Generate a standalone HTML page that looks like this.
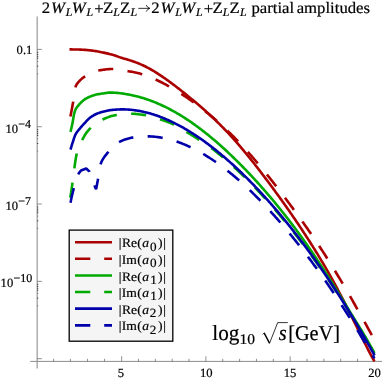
<!DOCTYPE html>
<html><head><meta charset="utf-8"><title>partial amplitudes</title>
<style>html,body{margin:0;padding:0;background:#fff;}body{width:383px;height:381px;overflow:hidden;font-family:"Liberation Serif",serif;}svg{display:block;will-change:transform;}text{text-rendering:geometricPrecision;font-family:"Liberation Serif",serif;fill:#000;stroke:#000;stroke-width:0.2px;}</style>
</head><body>
<svg width="383" height="381" viewBox="0 0 383 381">
<rect width="383" height="381" fill="#fff"/>
<g stroke="#8c8c8c" stroke-width="1" fill="none">
<line x1="37.2" y1="16.6" x2="37.2" y2="368.6" stroke="#a8a8a8" stroke-width="1.4"/>
<line x1="30.2" y1="361.4" x2="382" y2="361.4"/>
</g>
<g stroke="#333" stroke-width="0.55" fill="none">
<line x1="53.65" y1="358.8" x2="53.65" y2="361.4"/>
<line x1="70.40" y1="358.8" x2="70.40" y2="361.4"/>
<line x1="87.55" y1="358.8" x2="87.55" y2="361.4"/>
<line x1="104.55" y1="358.8" x2="104.55" y2="361.4"/>
<line x1="121.65" y1="356.3" x2="121.65" y2="361.4"/>
<line x1="138.50" y1="358.8" x2="138.50" y2="361.4"/>
<line x1="155.35" y1="358.8" x2="155.35" y2="361.4"/>
<line x1="172.20" y1="358.8" x2="172.20" y2="361.4"/>
<line x1="189.05" y1="358.8" x2="189.05" y2="361.4"/>
<line x1="205.90" y1="356.3" x2="205.90" y2="361.4"/>
<line x1="222.75" y1="358.8" x2="222.75" y2="361.4"/>
<line x1="239.60" y1="358.8" x2="239.60" y2="361.4"/>
<line x1="256.45" y1="358.8" x2="256.45" y2="361.4"/>
<line x1="273.30" y1="358.8" x2="273.30" y2="361.4"/>
<line x1="290.15" y1="356.3" x2="290.15" y2="361.4"/>
<line x1="307.00" y1="358.8" x2="307.00" y2="361.4"/>
<line x1="323.85" y1="358.8" x2="323.85" y2="361.4"/>
<line x1="340.70" y1="358.8" x2="340.70" y2="361.4"/>
<line x1="357.55" y1="358.8" x2="357.55" y2="361.4"/>
<line x1="374.40" y1="356.3" x2="374.40" y2="361.4"/>
<line x1="37.3" y1="49.40" x2="41.9" y2="49.40"/>
<line x1="37.3" y1="126.72" x2="41.9" y2="126.72"/>
<line x1="37.3" y1="204.05" x2="41.9" y2="204.05"/>
<line x1="37.3" y1="281.38" x2="41.9" y2="281.38"/>
<line x1="37.3" y1="358.70" x2="41.9" y2="358.70"/>
</g>
<g stroke="#222" fill="none">
<line x1="37.0" y1="52.30" x2="38.3" y2="52.30" stroke-width="0.8"/>
<line x1="37.0" y1="54.40" x2="38.3" y2="54.40" stroke-width="0.8"/>
<line x1="37.0" y1="56.30" x2="38.3" y2="56.30" stroke-width="0.8"/>
<line x1="37.0" y1="58.20" x2="38.3" y2="58.20" stroke-width="0.8"/>
<line x1="37.0" y1="61.50" x2="38.3" y2="61.50" stroke-width="0.4"/>
<line x1="37.0" y1="66.20" x2="38.3" y2="66.20" stroke-width="0.8"/>
<line x1="37.0" y1="73.80" x2="38.3" y2="73.80" stroke-width="0.4"/>
<line x1="37.0" y1="129.62" x2="38.3" y2="129.62" stroke-width="0.8"/>
<line x1="37.0" y1="131.72" x2="38.3" y2="131.72" stroke-width="0.8"/>
<line x1="37.0" y1="133.62" x2="38.3" y2="133.62" stroke-width="0.8"/>
<line x1="37.0" y1="135.53" x2="38.3" y2="135.53" stroke-width="0.8"/>
<line x1="37.0" y1="138.82" x2="38.3" y2="138.82" stroke-width="0.4"/>
<line x1="37.0" y1="143.53" x2="38.3" y2="143.53" stroke-width="0.8"/>
<line x1="37.0" y1="151.12" x2="38.3" y2="151.12" stroke-width="0.4"/>
<line x1="37.0" y1="206.95" x2="38.3" y2="206.95" stroke-width="0.8"/>
<line x1="37.0" y1="209.05" x2="38.3" y2="209.05" stroke-width="0.8"/>
<line x1="37.0" y1="210.95" x2="38.3" y2="210.95" stroke-width="0.8"/>
<line x1="37.0" y1="212.85" x2="38.3" y2="212.85" stroke-width="0.8"/>
<line x1="37.0" y1="216.15" x2="38.3" y2="216.15" stroke-width="0.4"/>
<line x1="37.0" y1="220.85" x2="38.3" y2="220.85" stroke-width="0.8"/>
<line x1="37.0" y1="228.45" x2="38.3" y2="228.45" stroke-width="0.4"/>
<line x1="37.0" y1="284.27" x2="38.3" y2="284.27" stroke-width="0.8"/>
<line x1="37.0" y1="286.38" x2="38.3" y2="286.38" stroke-width="0.8"/>
<line x1="37.0" y1="288.27" x2="38.3" y2="288.27" stroke-width="0.8"/>
<line x1="37.0" y1="290.18" x2="38.3" y2="290.18" stroke-width="0.8"/>
<line x1="37.0" y1="293.48" x2="38.3" y2="293.48" stroke-width="0.4"/>
<line x1="37.0" y1="298.18" x2="38.3" y2="298.18" stroke-width="0.8"/>
<line x1="37.0" y1="305.77" x2="38.3" y2="305.77" stroke-width="0.4"/>
</g>
<path d="M138.3,8.35 H149.6 M146.2,5.1 Q147.2,7.6 149.9,8.35 Q147.2,9.1 146.2,11.6" fill="none" stroke="#000" stroke-width="0.8"/>
<path d="M69.50,49.40 L70.65,49.40 L71.79,49.41 L72.94,49.43 L74.09,49.45 L75.23,49.47 L76.38,49.50 L77.52,49.53 L78.67,49.56 L79.81,49.59 L80.96,49.63 L82.10,49.69 L83.24,49.75 L84.39,49.83 L85.53,49.92 L86.68,50.02 L87.82,50.12 L88.96,50.23 L90.10,50.35 L91.24,50.47 L92.37,50.60 L93.51,50.75 L94.64,50.92 L95.77,51.11 L96.90,51.31 L98.03,51.52 L99.16,51.74 L100.28,51.96 L101.41,52.18 L102.53,52.41 L103.65,52.64 L104.77,52.87 L105.90,53.12 L107.01,53.37 L108.13,53.63 L109.25,53.91 L110.36,54.19 L111.46,54.48 L112.56,54.78 L113.66,55.11 L114.75,55.47 L115.83,55.85 L116.91,56.24 L117.99,56.63 L119.07,57.02 L120.15,57.38 L121.25,57.73 L122.34,58.06 L123.44,58.38 L124.54,58.70 L125.64,59.02 L126.74,59.35 L127.84,59.68 L128.93,60.02 L130.02,60.37 L131.11,60.73 L132.20,61.09 L133.29,61.45 L134.37,61.83 L135.45,62.22 L136.52,62.62 L137.59,63.03 L138.65,63.46 L139.71,63.90 L140.77,64.35 L141.82,64.82 L142.86,65.29 L143.90,65.77 L144.93,66.27 L145.95,66.78 L146.97,67.30 L147.99,67.83 L149.00,68.38 L150.00,68.94 L151.00,69.50 L151.99,70.07 L152.98,70.65 L153.97,71.23 L154.95,71.83 L155.92,72.43 L156.89,73.05 L157.85,73.67 L158.82,74.29 L159.77,74.92 L160.73,75.55 L161.68,76.19 L162.63,76.83 L163.57,77.48 L164.51,78.14 L165.45,78.80 L166.38,79.46 L167.32,80.13 L168.25,80.80 L169.17,81.47 L170.10,82.15 L171.02,82.83 L171.94,83.51 L172.86,84.20 L173.77,84.89 L174.69,85.58 L175.60,86.28 L176.51,86.97 L177.42,87.67 L178.32,88.37 L179.23,89.08 L180.13,89.78 L181.03,90.49 L181.93,91.20 L182.83,91.91 L183.72,92.63 L184.62,93.34 L185.51,94.06 L186.40,94.78 L187.29,95.50 L188.18,96.23 L189.07,96.95 L189.95,97.68 L190.84,98.41 L191.72,99.14 L192.60,99.87 L193.48,100.61 L194.36,101.34 L195.23,102.08 L196.11,102.82 L196.98,103.56 L197.86,104.31 L198.73,105.05 L199.59,105.80 L200.46,106.55 L201.32,107.30 L202.19,108.05 L203.05,108.81 L203.91,109.57 L204.77,110.33 L205.62,111.09 L206.48,111.85 L207.33,112.62 L208.18,113.39 L209.03,114.16 L209.87,114.93 L210.71,115.71 L211.55,116.49 L212.39,117.27 L213.23,118.06 L214.06,118.84 L214.89,119.63 L215.72,120.42 L216.54,121.22 L217.36,122.02 L218.18,122.82 L219.00,123.62 L219.81,124.43 L220.63,125.24 L221.43,126.05 L222.24,126.87 L223.04,127.68 L223.84,128.50 L224.64,129.33 L225.43,130.15 L226.23,130.98 L227.01,131.81 L227.80,132.65 L228.58,133.48 L229.36,134.32 L230.14,135.17 L230.92,136.01 L231.69,136.86 L232.46,137.70 L233.23,138.55 L233.99,139.41 L234.75,140.26 L235.51,141.12 L236.27,141.98 L237.02,142.85 L237.78,143.71 L238.53,144.58 L239.27,145.45 L240.02,146.32 L240.76,147.19 L241.50,148.06 L242.24,148.94 L242.98,149.82 L243.71,150.70 L244.44,151.58 L245.17,152.46 L245.90,153.35 L246.63,154.23 L247.35,155.12 L248.08,156.01 L248.80,156.90 L249.52,157.79 L250.24,158.68 L250.96,159.57 L251.67,160.47 L252.38,161.37 L253.10,162.27 L253.81,163.16 L254.52,164.06 L255.22,164.97 L255.93,165.87 L256.64,166.77 L257.34,167.67 L258.04,168.58 L258.75,169.48 L259.45,170.39 L260.15,171.30 L260.84,172.21 L261.54,173.12 L262.24,174.03 L262.93,174.94 L263.63,175.85 L264.32,176.76 L265.01,177.68 L265.70,178.59 L266.39,179.51 L267.08,180.42 L267.77,181.34 L268.45,182.26 L269.14,183.17 L269.82,184.09 L270.51,185.01 L271.19,185.93 L271.87,186.85 L272.55,187.78 L273.23,188.70 L273.91,189.62 L274.59,190.55 L275.26,191.47 L275.94,192.40 L276.62,193.32 L277.29,194.25 L277.96,195.18 L278.63,196.10 L279.31,197.03 L279.98,197.96 L280.64,198.89 L281.31,199.82 L281.98,200.76 L282.64,201.69 L283.31,202.62 L283.97,203.56 L284.64,204.49 L285.30,205.43 L285.96,206.36 L286.62,207.30 L287.28,208.24 L287.94,209.17 L288.59,210.11 L289.25,211.05 L289.90,211.99 L290.56,212.93 L291.21,213.88 L291.86,214.82 L292.51,215.76 L293.16,216.71 L293.81,217.65 L294.46,218.60 L295.10,219.54 L295.75,220.49 L296.39,221.44 L297.03,222.39 L297.67,223.34 L298.31,224.29 L298.95,225.24 L299.59,226.19 L300.23,227.14 L300.86,228.10 L301.50,229.05 L302.13,230.01 L302.76,230.96 L303.39,231.92 L304.02,232.88 L304.65,233.84 L305.28,234.80 L305.90,235.76 L306.52,236.72 L307.15,237.68 L307.77,238.64 L308.39,239.61 L309.01,240.57 L309.63,241.54 L310.24,242.50 L310.86,243.47 L311.47,244.44 L312.08,245.41 L312.69,246.38 L313.30,247.35 L313.91,248.32 L314.51,249.29 L315.12,250.27 L315.72,251.24 L316.32,252.22 L316.92,253.19 L317.52,254.17 L318.12,255.15 L318.71,256.13 L319.31,257.11 L319.90,258.09 L320.49,259.07 L321.08,260.05 L321.66,261.04 L322.25,262.02 L322.83,263.01 L323.42,263.99 L324.00,264.98 L324.58,265.97 L325.16,266.96 L325.73,267.95 L326.31,268.94 L326.88,269.93 L327.45,270.93 L328.02,271.92 L328.59,272.92 L329.15,273.91 L329.72,274.91 L330.28,275.91 L330.84,276.91 L331.40,277.91 L331.96,278.91 L332.51,279.91 L333.07,280.91 L333.62,281.92 L334.17,282.92 L334.72,283.93 L335.27,284.93 L335.82,285.94 L336.36,286.95 L336.90,287.96 L337.45,288.97 L337.98,289.98 L338.52,290.99 L339.06,292.00 L339.59,293.02 L340.13,294.03 L340.66,295.05 L341.19,296.06 L341.72,297.08 L342.25,298.09 L342.78,299.11 L343.30,300.13 L343.83,301.15 L344.35,302.17 L344.88,303.19 L345.40,304.21 L345.92,305.23 L346.44,306.25 L346.96,307.27 L347.47,308.29 L347.99,309.32 L348.50,310.34 L349.02,311.36 L349.53,312.39 L350.04,313.41 L350.56,314.44 L351.07,315.46 L351.58,316.49 L352.09,317.51 L352.60,318.54 L353.12,319.56 L353.63,320.59 L354.13,321.62 L354.64,322.64 L355.15,323.67 L355.66,324.70 L356.16,325.73 L356.67,326.75 L357.18,327.78 L357.69,328.81 L358.19,329.84 L358.70,330.86 L359.21,331.89 L359.72,332.92 L360.23,333.94 L360.74,334.97 L361.25,335.99 L361.77,337.02 L362.28,338.04 L362.79,339.07 L363.30,340.10 L363.81,341.12 L364.33,342.14 L364.84,343.17 L365.36,344.19 L365.87,345.22 L366.39,346.24 L366.91,347.26 L367.43,348.28 L367.95,349.30 L368.48,350.32 L369.01,351.33 L369.54,352.35 L370.07,353.36 L370.61,354.38 L371.14,355.39 L371.68,356.40 L372.22,357.41 L372.76,358.42 L373.31,359.43 L373.85,360.44 L374.40,361.44" fill="none" stroke="#aa0000" stroke-width="2.6" stroke-linejoin="round"/>
<path d="M70.40,116.50 L70.63,115.36 L70.86,114.23 L71.08,113.09 L71.31,111.95 L71.53,110.81 L71.74,109.67 L71.96,108.53 L72.17,107.39 L72.38,106.25 L72.59,105.11 L72.79,103.97 L72.99,102.83 L73.19,101.69 L73.37,100.53 L73.54,99.37 L73.69,98.19 L73.84,97.00 L73.97,95.81 L74.12,94.63 L74.26,93.45 L74.42,92.28 L74.59,91.13 L74.78,90.00 L75.00,88.90 L75.25,87.84 L75.53,86.80 L75.92,85.79 L76.44,84.79 L77.07,83.81 L77.80,82.85 L78.59,81.92 L79.42,81.02 L80.27,80.17 L81.12,79.36 L81.96,78.60 L82.87,77.88 L83.83,77.21 L84.83,76.59 L85.83,76.01 L86.83,75.44 L87.85,74.87 L88.88,74.30 L89.93,73.74 L90.98,73.20 L92.05,72.68 L93.12,72.20 L94.21,71.75 L95.30,71.35 L96.39,71.00 L97.49,70.71 L98.60,70.48 L99.71,70.29 L100.84,70.10 L101.98,69.92 L103.13,69.75 L104.29,69.60 L105.45,69.45 L106.62,69.32 L107.78,69.21 L108.95,69.12 L110.12,69.06 L111.28,69.02 L112.43,69.00 L113.59,69.02 L114.74,69.08 L115.89,69.18 L117.04,69.31 L118.18,69.47 L119.33,69.64 L120.48,69.84 L121.63,70.04 L122.78,70.26 L123.93,70.47 L125.07,70.68 L126.22,70.89 L127.36,71.08 L128.51,71.26 L129.66,71.43 L130.80,71.61 L131.95,71.80 L133.09,72.00 L134.23,72.21 L135.37,72.43 L136.50,72.68 L137.62,72.96 L138.74,73.26 L139.86,73.57 L140.98,73.91 L142.08,74.25 L143.19,74.60 L144.29,74.96 L145.39,75.33 L146.48,75.73 L147.57,76.13 L148.65,76.55 L149.73,76.98 L150.80,77.41 L151.88,77.85 L152.94,78.30 L154.01,78.77 L155.06,79.24 L156.12,79.73 L157.17,80.22 L158.22,80.72 L159.26,81.22 L160.30,81.73 L161.34,82.25 L162.37,82.78 L163.40,83.32 L164.42,83.86 L165.45,84.41 L166.46,84.96 L167.48,85.52 L168.49,86.09 L169.50,86.66 L170.51,87.24 L171.51,87.82 L172.51,88.41 L173.50,89.01 L174.50,89.61 L175.49,90.21 L176.47,90.82 L177.46,91.43 L178.44,92.05 L179.42,92.67 L180.39,93.30 L181.37,93.93 L182.34,94.56 L183.30,95.20 L184.27,95.85 L185.23,96.49 L186.19,97.14 L187.15,97.80 L188.10,98.46 L189.05,99.12 L190.00,99.79 L190.95,100.46 L191.89,101.13 L192.83,101.81 L193.77,102.49 L194.71,103.17 L195.64,103.86 L196.57,104.55 L197.50,105.25 L198.43,105.95 L199.35,106.65 L200.27,107.35 L201.19,108.06 L202.11,108.77 L203.02,109.48 L203.93,110.20 L204.84,110.92 L205.75,111.65 L206.65,112.37 L207.55,113.10 L208.45,113.84 L209.34,114.57 L210.24,115.31 L211.13,116.06 L212.01,116.80 L212.90,117.55 L213.78,118.30 L214.66,119.06 L215.54,119.82 L216.41,120.58 L217.28,121.35 L218.15,122.11 L219.02,122.89 L219.88,123.66 L220.74,124.44 L221.60,125.22 L222.45,126.00 L223.31,126.79 L224.16,127.58 L225.00,128.37 L225.85,129.16 L226.69,129.96 L227.53,130.76 L228.36,131.57 L229.19,132.37 L230.02,133.18 L230.85,134.00 L231.68,134.81 L232.50,135.63 L233.32,136.45 L234.14,137.27 L234.95,138.10 L235.76,138.93 L236.57,139.76 L237.38,140.59 L238.18,141.43 L238.98,142.26 L239.78,143.10 L240.58,143.95 L241.37,144.79 L242.16,145.64 L242.95,146.49 L243.74,147.34 L244.52,148.20 L245.30,149.06 L246.08,149.91 L246.86,150.78 L247.63,151.64 L248.40,152.50 L249.17,153.37 L249.94,154.24 L250.71,155.11 L251.47,155.98 L252.23,156.86 L252.99,157.74 L253.75,158.61 L254.50,159.49 L255.26,160.38 L256.01,161.26 L256.76,162.14 L257.50,163.03 L258.25,163.92 L258.99,164.81 L259.74,165.70 L260.48,166.59 L261.21,167.48 L261.95,168.38 L262.69,169.28 L263.42,170.17 L264.15,171.07 L264.88,171.97 L265.61,172.87 L266.34,173.78 L267.07,174.68 L267.79,175.59 L268.51,176.49 L269.24,177.40 L269.96,178.31 L270.68,179.22 L271.39,180.13 L272.11,181.04 L272.83,181.95 L273.54,182.87 L274.26,183.78 L274.97,184.70 L275.68,185.61 L276.39,186.53 L277.10,187.45 L277.80,188.37 L278.51,189.28 L279.22,190.20 L279.92,191.13 L280.62,192.05 L281.33,192.97 L282.03,193.89 L282.73,194.82 L283.43,195.74 L284.13,196.67 L284.83,197.59 L285.52,198.52 L286.22,199.45 L286.92,200.37 L287.61,201.30 L288.30,202.23 L289.00,203.16 L289.69,204.09 L290.38,205.02 L291.07,205.95 L291.76,206.89 L292.45,207.82 L293.14,208.75 L293.82,209.69 L294.51,210.62 L295.19,211.56 L295.88,212.50 L296.56,213.43 L297.24,214.37 L297.92,215.31 L298.60,216.25 L299.28,217.19 L299.96,218.13 L300.63,219.07 L301.31,220.02 L301.98,220.96 L302.66,221.90 L303.33,222.85 L304.00,223.79 L304.67,224.74 L305.33,225.69 L306.00,226.64 L306.67,227.59 L307.33,228.54 L308.00,229.49 L308.66,230.44 L309.32,231.39 L309.98,232.35 L310.63,233.30 L311.29,234.26 L311.95,235.22 L312.60,236.17 L313.25,237.13 L313.90,238.09 L314.55,239.05 L315.20,240.01 L315.85,240.98 L316.49,241.94 L317.14,242.90 L317.78,243.87 L318.42,244.83 L319.06,245.80 L319.70,246.77 L320.34,247.74 L320.97,248.71 L321.61,249.68 L322.24,250.65 L322.87,251.62 L323.50,252.60 L324.13,253.57 L324.76,254.55 L325.38,255.52 L326.01,256.50 L326.63,257.48 L327.25,258.46 L327.87,259.44 L328.49,260.42 L329.11,261.40 L329.73,262.38 L330.34,263.36 L330.95,264.35 L331.57,265.33 L332.18,266.32 L332.79,267.30 L333.40,268.29 L334.00,269.28 L334.61,270.27 L335.22,271.26 L335.82,272.24 L336.42,273.24 L337.02,274.23 L337.62,275.22 L338.22,276.21 L338.82,277.21 L339.42,278.20 L340.01,279.20 L340.61,280.19 L341.20,281.19 L341.79,282.18 L342.38,283.18 L342.97,284.18 L343.56,285.18 L344.15,286.18 L344.74,287.18 L345.32,288.18 L345.91,289.18 L346.49,290.18 L347.08,291.18 L347.66,292.19 L348.24,293.19 L348.82,294.19 L349.40,295.20 L349.98,296.20 L350.56,297.21 L351.14,298.21 L351.71,299.22 L352.29,300.22 L352.86,301.23 L353.44,302.24 L354.01,303.25 L354.58,304.25 L355.16,305.26 L355.73,306.27 L356.30,307.28 L356.87,308.29 L357.44,309.30 L358.01,310.31 L358.58,311.32 L359.15,312.33 L359.71,313.34 L360.28,314.35 L360.85,315.37 L361.42,316.38 L361.98,317.39 L362.55,318.40 L363.11,319.41 L363.68,320.43 L364.24,321.44 L364.81,322.45 L365.37,323.46 L365.94,324.48 L366.50,325.49 L367.06,326.50 L367.63,327.52 L368.19,328.53 L368.76,329.54 L369.32,330.55 L369.89,331.57 L370.45,332.58 L371.02,333.59 L371.58,334.61 L372.14,335.62 L372.71,336.63 L373.27,337.65 L373.84,338.66 L374.40,339.67" fill="none" stroke="#aa0000" stroke-width="2.6" stroke-linejoin="round" stroke-dasharray="15.1 14.4"/>
<path d="M70.50,131.90 L70.76,130.81 L71.01,129.71 L71.27,128.62 L71.52,127.53 L71.76,126.43 L72.01,125.34 L72.25,124.24 L72.48,123.14 L72.69,122.02 L72.89,120.90 L73.08,119.76 L73.26,118.63 L73.45,117.50 L73.64,116.38 L73.85,115.27 L74.08,114.17 L74.33,113.10 L74.61,112.04 L74.92,111.02 L75.31,110.02 L75.80,109.04 L76.38,108.08 L77.04,107.13 L77.74,106.21 L78.48,105.31 L79.22,104.45 L79.95,103.62 L80.71,102.80 L81.52,102.00 L82.36,101.23 L83.23,100.49 L84.12,99.81 L85.03,99.18 L85.97,98.60 L86.95,98.05 L87.95,97.53 L88.98,97.04 L90.02,96.60 L91.07,96.19 L92.12,95.81 L93.18,95.46 L94.26,95.13 L95.35,94.83 L96.44,94.55 L97.53,94.31 L98.63,94.10 L99.74,93.91 L100.85,93.74 L101.96,93.58 L103.08,93.42 L104.19,93.27 L105.30,93.11 L106.41,92.94 L107.53,92.78 L108.65,92.66 L109.76,92.60 L110.88,92.61 L112.00,92.63 L113.13,92.67 L114.25,92.71 L115.37,92.77 L116.49,92.83 L117.61,92.92 L118.73,93.04 L119.84,93.18 L120.95,93.33 L122.07,93.49 L123.18,93.65 L124.29,93.81 L125.40,93.98 L126.51,94.16 L127.61,94.36 L128.72,94.56 L129.82,94.76 L130.92,94.98 L132.02,95.21 L133.12,95.44 L134.21,95.69 L135.31,95.96 L136.40,96.23 L137.48,96.50 L138.57,96.79 L139.65,97.08 L140.73,97.39 L141.81,97.70 L142.89,98.03 L143.96,98.36 L145.03,98.70 L146.10,99.05 L147.16,99.40 L148.22,99.77 L149.28,100.14 L150.33,100.53 L151.39,100.92 L152.44,101.32 L153.48,101.73 L154.53,102.14 L155.57,102.56 L156.60,102.99 L157.64,103.43 L158.67,103.87 L159.70,104.33 L160.72,104.79 L161.74,105.25 L162.76,105.72 L163.78,106.20 L164.79,106.69 L165.79,107.18 L166.80,107.68 L167.80,108.19 L168.80,108.71 L169.80,109.23 L170.79,109.75 L171.78,110.28 L172.76,110.82 L173.74,111.36 L174.72,111.91 L175.70,112.47 L176.67,113.03 L177.64,113.59 L178.61,114.17 L179.57,114.74 L180.53,115.32 L181.49,115.91 L182.44,116.50 L183.39,117.10 L184.34,117.70 L185.28,118.31 L186.22,118.92 L187.16,119.54 L188.10,120.16 L189.03,120.78 L189.96,121.42 L190.88,122.05 L191.81,122.69 L192.73,123.33 L193.65,123.98 L194.56,124.63 L195.47,125.29 L196.38,125.94 L197.29,126.61 L198.19,127.28 L199.09,127.95 L199.99,128.62 L200.88,129.30 L201.77,129.98 L202.66,130.67 L203.55,131.35 L204.43,132.05 L205.31,132.74 L206.19,133.44 L207.07,134.14 L207.94,134.85 L208.81,135.56 L209.68,136.27 L210.55,136.98 L211.41,137.70 L212.27,138.42 L213.13,139.14 L213.99,139.86 L214.84,140.59 L215.70,141.32 L216.54,142.06 L217.39,142.80 L218.24,143.53 L219.08,144.28 L219.92,145.02 L220.76,145.76 L221.60,146.51 L222.43,147.27 L223.26,148.02 L224.09,148.77 L224.92,149.53 L225.75,150.29 L226.57,151.06 L227.39,151.82 L228.21,152.59 L229.03,153.36 L229.85,154.13 L230.66,154.90 L231.47,155.68 L232.28,156.45 L233.09,157.23 L233.90,158.01 L234.70,158.80 L235.50,159.58 L236.30,160.37 L237.10,161.16 L237.90,161.95 L238.69,162.74 L239.49,163.53 L240.28,164.33 L241.07,165.13 L241.86,165.92 L242.64,166.73 L243.43,167.53 L244.21,168.33 L244.99,169.14 L245.77,169.95 L246.55,170.76 L247.33,171.57 L248.10,172.38 L248.88,173.19 L249.65,174.01 L250.42,174.83 L251.18,175.65 L251.95,176.47 L252.71,177.29 L253.48,178.11 L254.24,178.94 L255.00,179.76 L255.76,180.59 L256.51,181.42 L257.27,182.25 L258.02,183.08 L258.77,183.92 L259.52,184.75 L260.27,185.59 L261.02,186.43 L261.76,187.27 L262.51,188.11 L263.25,188.95 L263.99,189.79 L264.73,190.64 L265.46,191.49 L266.20,192.33 L266.93,193.18 L267.67,194.03 L268.40,194.89 L269.13,195.74 L269.85,196.59 L270.58,197.45 L271.30,198.31 L272.03,199.17 L272.75,200.03 L273.47,200.89 L274.19,201.75 L274.90,202.61 L275.62,203.48 L276.33,204.35 L277.04,205.21 L277.75,206.08 L278.46,206.95 L279.17,207.83 L279.88,208.70 L280.58,209.57 L281.28,210.45 L281.98,211.33 L282.68,212.20 L283.38,213.08 L284.08,213.96 L284.77,214.84 L285.46,215.73 L286.16,216.61 L286.85,217.50 L287.53,218.38 L288.22,219.27 L288.91,220.16 L289.59,221.05 L290.27,221.94 L290.95,222.84 L291.63,223.73 L292.31,224.63 L292.98,225.52 L293.66,226.42 L294.33,227.32 L295.00,228.22 L295.67,229.12 L296.34,230.02 L297.00,230.93 L297.67,231.83 L298.33,232.74 L298.99,233.64 L299.65,234.55 L300.31,235.46 L300.97,236.37 L301.62,237.28 L302.28,238.19 L302.93,239.11 L303.58,240.02 L304.23,240.94 L304.88,241.85 L305.53,242.77 L306.17,243.69 L306.82,244.61 L307.46,245.53 L308.10,246.45 L308.74,247.37 L309.38,248.30 L310.02,249.22 L310.65,250.15 L311.29,251.07 L311.92,252.00 L312.55,252.93 L313.18,253.85 L313.81,254.78 L314.44,255.71 L315.07,256.64 L315.70,257.58 L316.32,258.51 L316.94,259.44 L317.57,260.38 L318.19,261.31 L318.81,262.25 L319.43,263.18 L320.04,264.12 L320.66,265.06 L321.28,266.00 L321.89,266.94 L322.50,267.88 L323.12,268.82 L323.73,269.76 L324.34,270.70 L324.95,271.64 L325.56,272.59 L326.16,273.53 L326.77,274.48 L327.38,275.42 L327.98,276.37 L328.59,277.31 L329.19,278.26 L329.79,279.21 L330.39,280.15 L330.99,281.10 L331.59,282.05 L332.19,283.00 L332.79,283.95 L333.39,284.90 L333.99,285.85 L334.58,286.80 L335.18,287.75 L335.77,288.71 L336.37,289.66 L336.96,290.61 L337.55,291.56 L338.15,292.52 L338.74,293.47 L339.33,294.42 L339.92,295.38 L340.51,296.33 L341.10,297.29 L341.69,298.24 L342.28,299.20 L342.87,300.16 L343.46,301.11 L344.04,302.07 L344.63,303.03 L345.22,303.98 L345.80,304.94 L346.39,305.90 L346.98,306.85 L347.57,307.81 L348.15,308.77 L348.74,309.72 L349.32,310.68 L349.91,311.64 L350.49,312.60 L351.08,313.56 L351.66,314.51 L352.25,315.47 L352.84,316.43 L353.42,317.39 L354.01,318.34 L354.60,319.30 L355.19,320.26 L355.78,321.21 L356.37,322.16 L356.97,323.11 L357.57,324.06 L358.16,325.01 L358.76,325.96 L359.36,326.91 L359.95,327.87 L360.55,328.82 L361.14,329.77 L361.73,330.73 L362.31,331.69 L362.88,332.65 L363.46,333.62 L364.03,334.58 L364.60,335.55 L365.17,336.52 L365.73,337.49 L366.29,338.46 L366.86,339.43 L367.42,340.40 L367.97,341.37 L368.53,342.35 L369.08,343.33 L369.64,344.30 L370.19,345.28 L370.73,346.26 L371.28,347.25 L371.82,348.23 L372.36,349.21 L372.90,350.20 L373.44,351.19 L373.97,352.17 L374.50,353.16" fill="none" stroke="#00aa00" stroke-width="2.6" stroke-linejoin="round"/>
<path d="M70.30,197.60 L70.48,196.43 L70.66,195.26 L70.84,194.09 L71.02,192.92 L71.20,191.75 L71.37,190.59 L71.54,189.42 L71.71,188.24 L71.88,187.07 L72.05,185.90 L72.21,184.73 L72.38,183.56 L72.54,182.39 L72.69,181.22 L72.84,180.04 L72.99,178.87 L73.14,177.70 L73.28,176.52 L73.43,175.35 L73.57,174.18 L73.72,173.00 L73.87,171.83 L74.03,170.66 L74.19,169.49 L74.35,168.31 L74.52,167.14 L74.68,165.96 L74.84,164.79 L75.00,163.61 L75.17,162.43 L75.34,161.25 L75.52,160.08 L75.72,158.91 L75.92,157.75 L76.14,156.59 L76.37,155.45 L76.62,154.31 L76.91,153.18 L77.23,152.05 L77.58,150.92 L77.97,149.81 L78.38,148.69 L78.82,147.58 L79.28,146.48 L79.75,145.38 L80.24,144.29 L80.73,143.21 L81.24,142.13 L81.74,141.06 L82.24,140.00 L82.76,138.94 L83.31,137.88 L83.88,136.84 L84.47,135.80 L85.09,134.79 L85.73,133.80 L86.39,132.84 L87.10,131.89 L87.84,130.95 L88.62,130.04 L89.42,129.17 L90.25,128.35 L91.10,127.56 L91.98,126.77 L92.88,125.99 L93.80,125.22 L94.74,124.47 L95.71,123.74 L96.68,123.03 L97.67,122.35 L98.68,121.71 L99.69,121.09 L100.71,120.51 L101.74,119.97 L102.78,119.47 L103.83,118.99 L104.91,118.50 L106.00,118.03 L107.11,117.58 L108.23,117.14 L109.36,116.73 L110.50,116.35 L111.65,116.00 L112.80,115.69 L113.95,115.42 L115.10,115.20 L116.25,115.02 L117.41,114.85 L118.57,114.68 L119.74,114.52 L120.92,114.37 L122.10,114.23 L123.28,114.10 L124.47,113.99 L125.66,113.89 L126.84,113.81 L128.03,113.75 L129.21,113.71 L130.39,113.70 L131.57,113.71 L132.75,113.75 L133.93,113.82 L135.12,113.91 L136.30,114.01 L137.48,114.13 L138.66,114.27 L139.84,114.42 L141.02,114.58 L142.19,114.74 L143.36,114.91 L144.52,115.07 L145.68,115.25 L146.83,115.47 L147.98,115.72 L149.13,116.00 L150.28,116.30 L151.42,116.62 L152.56,116.95 L153.70,117.30 L154.83,117.66 L155.97,118.03 L157.10,118.39 L158.22,118.75 L159.35,119.11 L160.47,119.47 L161.60,119.84 L162.73,120.21 L163.85,120.60 L164.97,120.99 L166.09,121.39 L167.20,121.81 L168.31,122.23 L169.41,122.66 L170.50,123.11 L171.59,123.57 L172.66,124.05 L173.72,124.54 L174.78,125.06 L175.82,125.60 L176.86,126.17 L177.88,126.75 L178.91,127.35 L179.92,127.96 L180.94,128.58 L181.95,129.21 L182.96,129.83 L183.97,130.45 L184.99,131.07 L186.00,131.68 L187.01,132.29 L188.03,132.90 L189.04,133.51 L190.05,134.13 L191.05,134.75 L192.06,135.37 L193.07,135.99 L194.07,136.62 L195.07,137.25 L196.07,137.88 L197.07,138.51 L198.07,139.15 L199.06,139.79 L200.06,140.42 L201.06,141.06 L202.06,141.69 L203.06,142.33 L204.05,142.97 L205.04,143.62 L206.03,144.27 L207.01,144.93 L207.99,145.60 L208.96,146.27 L209.92,146.95 L210.87,147.65 L211.82,148.36 L212.75,149.09 L213.67,149.82 L214.59,150.57 L215.51,151.32 L216.43,152.07 L217.34,152.82 L218.26,153.56 L219.18,154.31 L220.10,155.05 L221.02,155.80 L221.93,156.55 L222.85,157.30 L223.76,158.05 L224.67,158.81 L225.57,159.57 L226.47,160.34 L227.36,161.11 L228.26,161.89 L229.14,162.67 L230.03,163.46 L230.91,164.24 L231.79,165.03 L232.67,165.83 L233.54,166.62 L234.42,167.42 L235.29,168.22 L236.16,169.02 L237.02,169.83 L237.89,170.64 L238.75,171.45 L239.61,172.26 L240.46,173.07 L241.32,173.89 L242.17,174.71 L243.02,175.53 L243.87,176.36 L244.72,177.18 L245.56,178.01 L246.40,178.84 L247.24,179.67 L248.08,180.51 L248.92,181.35 L249.75,182.19 L250.58,183.03 L251.41,183.87 L252.24,184.71 L253.06,185.56 L253.88,186.41 L254.70,187.26 L255.52,188.12 L256.34,188.97 L257.16,189.83 L257.97,190.69 L258.78,191.55 L259.59,192.41 L260.40,193.27 L261.20,194.14 L262.00,195.01 L262.81,195.88 L263.61,196.75 L264.40,197.62 L265.20,198.50 L265.99,199.37 L266.79,200.25 L267.58,201.13 L268.36,202.01 L269.15,202.90 L269.94,203.78 L270.72,204.67 L271.50,205.56 L272.28,206.45 L273.06,207.34 L273.83,208.23 L274.61,209.12 L275.38,210.02 L276.15,210.92 L276.92,211.81 L277.69,212.71 L278.45,213.62 L279.22,214.52 L279.98,215.42 L280.74,216.33 L281.50,217.24 L282.25,218.14 L283.01,219.05 L283.76,219.97 L284.52,220.88 L285.27,221.79 L286.01,222.71 L286.76,223.63 L287.51,224.54 L288.25,225.46 L288.99,226.38 L289.74,227.30 L290.48,228.22 L291.22,229.15 L291.96,230.07 L292.69,231.00 L293.43,231.92 L294.17,232.85 L294.90,233.77 L295.63,234.70 L296.36,235.63 L297.09,236.56 L297.82,237.50 L298.54,238.43 L299.27,239.37 L299.99,240.30 L300.71,241.24 L301.43,242.18 L302.15,243.12 L302.86,244.06 L303.58,245.00 L304.29,245.94 L305.00,246.89 L305.72,247.83 L306.42,248.78 L307.13,249.73 L307.84,250.68 L308.54,251.63 L309.25,252.58 L309.95,253.53 L310.65,254.48 L311.35,255.44 L312.04,256.39 L312.74,257.35 L313.43,258.31 L314.13,259.26 L314.82,260.22 L315.51,261.18 L316.20,262.15 L316.88,263.11 L317.57,264.07 L318.26,265.04 L318.94,266.00 L319.62,266.97 L320.30,267.93 L320.98,268.90 L321.66,269.87 L322.33,270.84 L323.01,271.81 L323.68,272.79 L324.35,273.76 L325.02,274.73 L325.69,275.71 L326.36,276.68 L327.03,277.66 L327.69,278.64 L328.36,279.62 L329.02,280.60 L329.68,281.58 L330.34,282.56 L331.00,283.54 L331.66,284.52 L332.32,285.51 L332.97,286.49 L333.62,287.48 L334.28,288.46 L334.93,289.45 L335.58,290.44 L336.23,291.43 L336.87,292.42 L337.52,293.41 L338.16,294.40 L338.80,295.39 L339.45,296.39 L340.08,297.38 L340.72,298.38 L341.36,299.37 L342.00,300.37 L342.63,301.37 L343.26,302.37 L343.89,303.37 L344.52,304.37 L345.15,305.37 L345.78,306.37 L346.41,307.38 L347.03,308.38 L347.66,309.38 L348.28,310.39 L348.90,311.40 L349.52,312.40 L350.14,313.41 L350.76,314.42 L351.38,315.43 L351.99,316.44 L352.60,317.45 L353.22,318.46 L353.83,319.47 L354.44,320.49 L355.05,321.50 L355.66,322.51 L356.26,323.53 L356.87,324.54 L357.47,325.56 L358.08,326.58 L358.68,327.60 L359.28,328.61 L359.88,329.63 L360.48,330.65 L361.08,331.67 L361.67,332.70 L362.27,333.72 L362.86,334.74 L363.45,335.76 L364.05,336.79 L364.64,337.81 L365.23,338.84 L365.81,339.86 L366.40,340.89 L366.99,341.92 L367.57,342.95 L368.15,343.98 L368.74,345.00 L369.32,346.03 L369.90,347.06 L370.48,348.09 L371.06,349.13 L371.63,350.16 L372.21,351.19 L372.78,352.23 L373.36,353.26 L373.93,354.30 L374.50,355.33" fill="none" stroke="#00aa00" stroke-width="2.6" stroke-linejoin="round" stroke-dasharray="15.1 14.4"/>
<path d="M70.50,149.70 L70.80,148.65 L71.10,147.59 L71.41,146.54 L71.73,145.49 L72.05,144.45 L72.38,143.40 L72.72,142.36 L73.06,141.32 L73.39,140.27 L73.72,139.21 L74.06,138.16 L74.42,137.11 L74.80,136.09 L75.22,135.10 L75.69,134.14 L76.23,133.21 L76.84,132.30 L77.50,131.42 L78.20,130.55 L78.90,129.69 L79.59,128.83 L80.28,127.98 L80.99,127.15 L81.70,126.32 L82.44,125.50 L83.17,124.69 L83.92,123.89 L84.66,123.08 L85.41,122.26 L86.15,121.44 L86.91,120.63 L87.67,119.83 L88.46,119.07 L89.27,118.35 L90.10,117.67 L90.97,117.04 L91.87,116.43 L92.80,115.83 L93.76,115.26 L94.73,114.73 L95.72,114.23 L96.71,113.77 L97.71,113.36 L98.73,112.98 L99.77,112.64 L100.82,112.32 L101.88,112.03 L102.95,111.75 L104.02,111.50 L105.08,111.25 L106.15,111.00 L107.22,110.76 L108.30,110.53 L109.38,110.32 L110.46,110.14 L111.54,110.00 L112.63,109.89 L113.71,109.80 L114.80,109.72 L115.90,109.64 L116.99,109.57 L118.09,109.51 L119.18,109.46 L120.28,109.42 L121.38,109.39 L122.47,109.37 L123.57,109.37 L124.66,109.40 L125.75,109.44 L126.85,109.50 L127.94,109.57 L129.04,109.65 L130.13,109.73 L131.22,109.82 L132.31,109.92 L133.39,110.04 L134.48,110.19 L135.57,110.34 L136.65,110.51 L137.73,110.69 L138.81,110.87 L139.89,111.06 L140.96,111.26 L142.04,111.48 L143.11,111.72 L144.18,111.96 L145.24,112.21 L146.31,112.47 L147.37,112.74 L148.43,113.02 L149.48,113.31 L150.54,113.61 L151.59,113.92 L152.64,114.24 L153.68,114.57 L154.72,114.91 L155.76,115.25 L156.80,115.60 L157.83,115.97 L158.86,116.34 L159.89,116.72 L160.91,117.11 L161.93,117.51 L162.95,117.91 L163.97,118.32 L164.98,118.74 L165.99,119.16 L166.99,119.60 L168.00,120.04 L168.99,120.49 L169.99,120.95 L170.98,121.41 L171.97,121.87 L172.96,122.35 L173.94,122.83 L174.92,123.32 L175.90,123.82 L176.88,124.32 L177.85,124.82 L178.82,125.33 L179.78,125.85 L180.74,126.37 L181.70,126.90 L182.66,127.44 L183.61,127.98 L184.56,128.52 L185.51,129.07 L186.45,129.63 L187.39,130.19 L188.33,130.75 L189.26,131.32 L190.20,131.90 L191.13,132.48 L192.05,133.06 L192.97,133.65 L193.90,134.25 L194.81,134.84 L195.73,135.44 L196.64,136.05 L197.55,136.66 L198.46,137.27 L199.36,137.89 L200.26,138.52 L201.16,139.14 L202.06,139.77 L202.95,140.41 L203.84,141.04 L204.73,141.68 L205.61,142.33 L206.49,142.98 L207.37,143.63 L208.25,144.28 L209.13,144.94 L210.00,145.60 L210.87,146.27 L211.74,146.94 L212.60,147.61 L213.47,148.28 L214.33,148.96 L215.18,149.64 L216.04,150.33 L216.89,151.01 L217.74,151.70 L218.59,152.39 L219.44,153.09 L220.28,153.79 L221.12,154.49 L221.96,155.19 L222.80,155.90 L223.63,156.61 L224.47,157.32 L225.30,158.03 L226.12,158.75 L226.95,159.47 L227.77,160.19 L228.59,160.91 L229.41,161.64 L230.23,162.37 L231.05,163.10 L231.86,163.83 L232.67,164.57 L233.48,165.31 L234.29,166.05 L235.09,166.79 L235.90,167.53 L236.70,168.28 L237.50,169.03 L238.29,169.78 L239.09,170.53 L239.88,171.29 L240.67,172.04 L241.46,172.80 L242.25,173.56 L243.04,174.33 L243.82,175.09 L244.60,175.86 L245.38,176.63 L246.16,177.40 L246.94,178.17 L247.71,178.94 L248.48,179.72 L249.25,180.50 L250.02,181.28 L250.79,182.06 L251.56,182.84 L252.32,183.63 L253.08,184.41 L253.84,185.20 L254.60,185.99 L255.36,186.78 L256.11,187.58 L256.87,188.37 L257.62,189.17 L258.37,189.96 L259.12,190.76 L259.86,191.56 L260.61,192.37 L261.35,193.17 L262.09,193.98 L262.83,194.78 L263.57,195.59 L264.31,196.40 L265.04,197.21 L265.78,198.03 L266.51,198.84 L267.24,199.66 L267.97,200.47 L268.70,201.29 L269.42,202.11 L270.15,202.93 L270.87,203.75 L271.59,204.58 L272.31,205.40 L273.03,206.23 L273.75,207.06 L274.46,207.89 L275.18,208.72 L275.89,209.55 L276.60,210.38 L277.31,211.21 L278.02,212.05 L278.73,212.89 L279.43,213.72 L280.13,214.56 L280.84,215.40 L281.54,216.24 L282.24,217.09 L282.94,217.93 L283.63,218.78 L284.33,219.62 L285.02,220.47 L285.71,221.32 L286.40,222.17 L287.09,223.02 L287.78,223.87 L288.47,224.72 L289.16,225.58 L289.84,226.43 L290.52,227.29 L291.20,228.14 L291.88,229.00 L292.56,229.86 L293.24,230.72 L293.92,231.58 L294.59,232.45 L295.26,233.31 L295.94,234.17 L296.61,235.04 L297.28,235.91 L297.95,236.77 L298.61,237.64 L299.28,238.51 L299.94,239.38 L300.61,240.25 L301.27,241.12 L301.93,242.00 L302.59,242.87 L303.25,243.75 L303.90,244.62 L304.56,245.50 L305.21,246.38 L305.87,247.26 L306.52,248.14 L307.17,249.02 L307.82,249.90 L308.47,250.78 L309.11,251.67 L309.76,252.55 L310.40,253.44 L311.05,254.32 L311.69,255.21 L312.33,256.10 L312.97,256.99 L313.61,257.88 L314.24,258.77 L314.88,259.66 L315.51,260.55 L316.15,261.44 L316.78,262.34 L317.41,263.23 L318.04,264.13 L318.67,265.02 L319.30,265.92 L319.93,266.82 L320.55,267.72 L321.17,268.62 L321.80,269.52 L322.42,270.42 L323.04,271.32 L323.66,272.23 L324.28,273.13 L324.90,274.03 L325.51,274.94 L326.13,275.84 L326.74,276.75 L327.35,277.66 L327.97,278.57 L328.58,279.48 L329.19,280.39 L329.79,281.30 L330.40,282.21 L331.01,283.12 L331.61,284.03 L332.22,284.95 L332.82,285.86 L333.42,286.78 L334.02,287.69 L334.62,288.61 L335.22,289.53 L335.81,290.44 L336.41,291.36 L337.01,292.28 L337.60,293.20 L338.19,294.12 L338.78,295.04 L339.37,295.97 L339.96,296.89 L340.55,297.81 L341.14,298.74 L341.73,299.66 L342.31,300.59 L342.90,301.51 L343.48,302.44 L344.06,303.37 L344.64,304.30 L345.22,305.22 L345.80,306.15 L346.38,307.08 L346.96,308.01 L347.53,308.95 L348.11,309.88 L348.68,310.81 L349.25,311.74 L349.82,312.68 L350.39,313.61 L350.96,314.55 L351.53,315.48 L352.10,316.42 L352.67,317.36 L353.23,318.30 L353.80,319.23 L354.36,320.17 L354.92,321.11 L355.48,322.05 L356.04,322.99 L356.60,323.94 L357.16,324.88 L357.72,325.82 L358.27,326.76 L358.83,327.71 L359.38,328.65 L359.94,329.60 L360.49,330.54 L361.04,331.49 L361.59,332.44 L362.14,333.38 L362.69,334.33 L363.23,335.28 L363.78,336.23 L364.32,337.18 L364.87,338.13 L365.41,339.08 L365.95,340.03 L366.49,340.98 L367.03,341.94 L367.57,342.89 L368.11,343.84 L368.65,344.80 L369.19,345.75 L369.72,346.71 L370.26,347.66 L370.79,348.62 L371.32,349.57 L371.86,350.53 L372.39,351.49 L372.92,352.45 L373.45,353.41 L373.97,354.37 L374.50,355.33" fill="none" stroke="#0000aa" stroke-width="2.6" stroke-linejoin="round"/>
<path d="M70.50,202.80 L70.63,202.13 L70.76,201.45 L70.89,200.78 L71.02,200.10 L71.16,199.43 L71.30,198.76 L71.44,198.09 L71.59,197.42 L71.74,196.75 L71.89,196.08 L72.04,195.41 L72.19,194.75 L72.35,194.08 L72.51,193.41 L72.67,192.75 L72.83,192.08 L73.00,191.42 L73.17,190.76 L73.34,190.09 L73.51,189.43 L73.68,188.77 L73.86,188.11 L74.03,187.44 L74.20,186.77 L74.37,186.10 L74.54,185.43 L74.72,184.76 L74.89,184.08 L75.07,183.41 L75.26,182.74 L75.44,182.07 L75.63,181.40 L75.83,180.73 L76.03,180.07 L76.24,179.41 L76.45,178.76 L76.67,178.12 L76.90,177.48 L77.14,176.84 L77.39,176.22 L77.65,175.60 L77.92,174.99 L78.20,174.39 L78.51,173.81 L78.87,173.24 L79.26,172.67 L79.67,172.12 L80.11,171.57 L80.55,171.03 L81.00,170.50 L81.00,170.50 L86.20,168.50 L86.20,168.50 L89.50,171.60 L89.50,171.60 L89.66,172.08 L89.83,172.57 L89.99,173.05 L90.15,173.53 L90.32,174.02 L90.49,174.50 L90.66,174.98 L90.82,175.46 L90.99,175.94 L91.16,176.42 L91.34,176.90 L91.51,177.38 L91.68,177.86 L91.85,178.34 L92.03,178.82 L92.20,179.30 L92.38,179.78 L92.56,180.26 L92.73,180.74 L92.91,181.22 L93.09,181.70 L93.27,182.17 L93.45,182.65 L93.63,183.13 L93.81,183.60 L93.99,184.08 L94.17,184.56 L94.35,185.03 L94.53,185.51 L94.72,185.99 L94.91,186.46 L95.09,186.93 L95.28,187.41 L95.47,187.88 L95.67,188.35 L95.86,188.83 L96.05,189.30 L96.05,189.30 L96.23,188.42 L96.40,187.54 L96.58,186.65 L96.75,185.77 L96.92,184.89 L97.09,184.01 L97.26,183.12 L97.43,182.24 L97.60,181.36 L97.77,180.47 L97.93,179.59 L98.10,178.70 L98.26,177.81 L98.41,176.92 L98.55,176.02 L98.68,175.11 L98.82,174.21 L98.95,173.30 L99.08,172.39 L99.21,171.48 L99.34,170.58 L99.49,169.68 L99.63,168.79 L99.79,167.91 L99.96,167.04 L100.15,166.18 L100.35,165.33 L100.56,164.49 L100.80,163.67 L101.08,162.86 L101.41,162.05 L101.77,161.25 L102.18,160.45 L102.62,159.66 L103.09,158.88 L103.59,158.10 L104.11,157.34 L104.65,156.58 L105.20,155.83 L105.77,155.09 L106.34,154.36 L106.92,153.65 L107.50,152.94 L108.07,152.25 L108.64,151.57 L109.21,150.89 L109.80,150.21 L110.40,149.52 L111.01,148.84 L111.64,148.16 L112.28,147.48 L112.93,146.82 L113.60,146.17 L114.28,145.54 L114.97,144.93 L115.67,144.34 L116.38,143.79 L117.10,143.27 L117.83,142.78 L118.57,142.34 L119.32,141.94 L120.08,141.56 L120.86,141.19 L121.67,140.84 L122.49,140.49 L123.33,140.15 L124.18,139.83 L125.04,139.52 L125.91,139.23 L126.79,138.94 L127.68,138.68 L128.57,138.43 L129.46,138.20 L130.35,137.98 L131.24,137.79 L132.12,137.61 L133.00,137.45 L133.88,137.31 L134.77,137.17 L135.66,137.03 L136.55,136.91 L137.45,136.80 L138.35,136.70 L139.25,136.62 L140.14,136.55 L141.04,136.51 L141.94,136.49 L142.84,136.47 L143.74,136.45 L144.64,136.43 L145.54,136.41 L146.44,136.40 L147.34,136.39 L148.24,136.39 L149.14,136.38 L150.03,136.40 L150.93,136.43 L151.83,136.49 L152.73,136.56 L153.63,136.64 L154.52,136.73 L155.42,136.83 L156.31,136.93 L157.20,137.03 L158.10,137.14 L158.99,137.26 L159.88,137.40 L160.76,137.54 L161.65,137.70 L162.54,137.87 L163.42,138.04 L164.30,138.22 L165.18,138.40 L166.06,138.59 L166.94,138.78 L167.81,138.99 L168.69,139.21 L169.56,139.44 L170.43,139.68 L171.30,139.92 L172.16,140.17 L173.02,140.42 L173.88,140.67 L174.74,140.94 L175.60,141.22 L176.45,141.50 L177.31,141.79 L178.16,142.09 L179.00,142.39 L179.85,142.70 L180.69,143.01 L181.53,143.33 L182.37,143.65 L183.20,143.99 L184.04,144.33 L184.87,144.67 L185.70,145.02 L186.53,145.38 L187.35,145.74 L188.17,146.11 L188.99,146.48 L189.81,146.85 L190.62,147.24 L191.43,147.62 L192.24,148.02 L193.05,148.42 L193.85,148.82 L194.66,149.23 L195.45,149.64 L196.25,150.06 L197.05,150.48 L197.84,150.90 L198.63,151.33 L199.42,151.76 L200.20,152.20 L200.99,152.65 L201.77,153.09 L202.54,153.54 L203.32,154.00 L204.09,154.46 L204.87,154.92 L205.64,155.39 L206.40,155.86 L207.17,156.33 L207.93,156.81 L208.69,157.29 L209.45,157.77 L210.20,158.26 L210.96,158.75 L211.71,159.25 L212.46,159.75 L213.20,160.25 L213.95,160.75 L214.69,161.26 L215.43,161.77 L216.17,162.28 L216.90,162.80 L217.64,163.32 L218.37,163.85 L219.10,164.37 L219.83,164.90 L220.55,165.43 L221.28,165.96 L222.00,166.50 L222.72,167.04 L223.44,167.58 L224.15,168.13 L224.87,168.67 L225.58,169.22 L226.29,169.78 L227.00,170.33 L227.70,170.89 L228.41,171.45 L229.11,172.01 L229.81,172.57 L230.51,173.14 L231.21,173.71 L231.90,174.28 L232.59,174.85 L233.29,175.43 L233.98,176.01 L234.66,176.58 L235.35,177.17 L236.03,177.75 L236.72,178.34 L237.40,178.92 L238.08,179.51 L238.76,180.10 L239.43,180.70 L240.11,181.29 L240.78,181.89 L241.45,182.49 L242.12,183.09 L242.79,183.69 L243.45,184.30 L244.12,184.90 L244.78,185.51 L245.44,186.12 L246.10,186.73 L246.76,187.34 L247.42,187.96 L248.07,188.57 L248.73,189.19 L249.38,189.81 L250.03,190.43 L250.68,191.05 L251.33,191.68 L251.97,192.30 L252.62,192.93 L253.26,193.56 L253.90,194.19 L254.55,194.82 L255.18,195.45 L255.82,196.08 L256.46,196.72 L257.09,197.36 L257.73,198.00 L258.36,198.64 L258.99,199.28 L259.62,199.92 L260.25,200.56 L260.88,201.21 L261.50,201.85 L262.13,202.50 L262.75,203.15 L263.37,203.80 L263.99,204.45 L264.61,205.10 L265.23,205.75 L265.85,206.41 L266.46,207.06 L267.08,207.72 L267.69,208.38 L268.30,209.04 L268.91,209.70 L269.52,210.36 L270.13,211.02 L270.74,211.69 L271.35,212.35 L271.95,213.02 L272.55,213.68 L273.16,214.35 L273.76,215.02 L274.36,215.69 L274.96,216.36 L275.55,217.03 L276.15,217.71 L276.75,218.38 L277.34,219.05 L277.94,219.73 L278.53,220.41 L279.12,221.08 L279.71,221.76 L280.30,222.44 L280.89,223.12 L281.47,223.80 L282.06,224.49 L282.65,225.17 L283.23,225.85 L283.81,226.54 L284.39,227.23 L284.98,227.91 L285.55,228.60 L286.13,229.29 L286.71,229.98 L287.29,230.67 L287.86,231.36 L288.44,232.05 L289.01,232.74 L289.59,233.44 L290.16,234.13 L290.73,234.83 L291.30,235.52 L291.87,236.22 L292.44,236.92 L293.00,237.61 L293.57,238.31 L294.13,239.01 L294.70,239.71 L295.26,240.41 L295.82,241.12 L296.38,241.82 L296.94,242.52 L297.50,243.23 L298.06,243.93 L298.62,244.64 L299.18,245.34 L299.73,246.05 L300.29,246.76 L300.84,247.47 L301.39,248.18 L301.95,248.89 L302.50,249.60 L303.05,250.31 L303.60,251.02 L304.15,251.73 L304.69,252.45 L305.24,253.16 L305.79,253.88 L306.33,254.59 L306.88,255.31 L307.42,256.03 L307.96,256.74 L308.50,257.46 L309.04,258.18 L309.58,258.90 L310.12,259.62 L310.66,260.34 L311.20,261.06 L311.73,261.78 L312.27,262.51 L312.80,263.23 L313.34,263.95 L313.87,264.68 L314.40,265.40 L314.93,266.13 L315.46,266.86 L315.99,267.58 L316.52,268.31 L317.05,269.04 L317.57,269.77 L318.10,270.50 L318.62,271.23 L319.15,271.96 L319.67,272.69 L320.19,273.42 L320.71,274.16 L321.24,274.89 L321.76,275.63 L322.27,276.36 L322.79,277.09 L323.31,277.83 L323.83,278.57 L324.34,279.30 L324.86,280.04 L325.37,280.78 L325.88,281.52 L326.40,282.26 L326.91,283.00 L327.42,283.74 L327.93,284.48 L328.44,285.22 L328.94,285.96 L329.45,286.71 L329.96,287.45 L330.46,288.19 L330.97,288.94 L331.47,289.68 L331.97,290.43 L332.48,291.18 L332.98,291.92 L333.48,292.67 L333.98,293.42 L334.48,294.16 L334.98,294.91 L335.47,295.66 L335.97,296.41 L336.46,297.16 L336.96,297.91 L337.45,298.67 L337.95,299.42 L338.44,300.17 L338.93,300.92 L339.42,301.68 L339.91,302.43 L340.40,303.18 L340.89,303.94 L341.38,304.69 L341.87,305.45 L342.36,306.21 L342.84,306.96 L343.33,307.72 L343.81,308.48 L344.30,309.24 L344.78,309.99 L345.27,310.75 L345.75,311.51 L346.23,312.27 L346.71,313.03 L347.19,313.79 L347.67,314.55 L348.15,315.31 L348.63,316.07 L349.11,316.84 L349.59,317.60 L350.06,318.36 L350.54,319.12 L351.02,319.89 L351.49,320.65 L351.97,321.41 L352.44,322.18 L352.91,322.94 L353.39,323.71 L353.86,324.47 L354.33,325.24 L354.80,326.00 L355.28,326.77 L355.75,327.54 L356.22,328.30 L356.69,329.07 L357.16,329.84 L357.63,330.60 L358.10,331.37 L358.57,332.14 L359.04,332.90 L359.50,333.67 L359.97,334.44 L360.44,335.21 L360.91,335.98 L361.37,336.75 L361.84,337.52 L362.31,338.28 L362.77,339.05 L363.24,339.82 L363.70,340.59 L364.17,341.36 L364.64,342.13 L365.10,342.90 L365.57,343.67 L366.03,344.44 L366.50,345.21 L366.96,345.98 L367.43,346.75 L367.90,347.52 L368.36,348.29 L368.83,349.06 L369.29,349.83 L369.76,350.60 L370.22,351.37 L370.69,352.14 L371.15,352.91 L371.62,353.68 L372.08,354.45 L372.54,355.22 L373.01,355.99 L373.47,356.76 L373.94,357.53 L374.40,358.30" fill="none" stroke="#0000aa" stroke-width="2.6" stroke-linejoin="bevel" stroke-dasharray="15.1 14.4"/>
<rect x="69.2" y="230.1" width="103.6" height="111.1" fill="#f5f5f5" stroke="#000" stroke-width="1.3"/>
<line x1="75" y1="242.3" x2="112" y2="242.3" stroke="#aa0000" stroke-width="2.6"/>
<line x1="75" y1="258.7" x2="112" y2="258.7" stroke="#aa0000" stroke-width="2.6" stroke-dasharray="15.3 13.9"/>
<line x1="75" y1="275.5" x2="112" y2="275.5" stroke="#00aa00" stroke-width="2.6"/>
<line x1="75" y1="292.0" x2="112" y2="292.0" stroke="#00aa00" stroke-width="2.6" stroke-dasharray="15.3 13.9"/>
<line x1="75" y1="308.6" x2="112" y2="308.6" stroke="#0000aa" stroke-width="2.6"/>
<line x1="75" y1="325.4" x2="112" y2="325.4" stroke="#0000aa" stroke-width="2.6" stroke-dasharray="15.3 13.9"/>
<text transform="translate(117.80,376.80) scale(1.0,1)" font-size="12.6">5</text>
<text transform="translate(199.90,376.80) scale(1.0,1)" font-size="12.6">10</text>
<text transform="translate(283.80,376.80) scale(1.0,1)" font-size="12.6">15</text>
<text transform="translate(368.20,376.80) scale(1.0,1)" font-size="12.6">20</text>
<text transform="translate(16.60,53.80) scale(1.0,1)" font-size="12.6">0.</text>
<text transform="translate(25.90,53.80) scale(1.0,1)" font-size="12.6">1</text>
<text transform="translate(5.50,132.60) scale(1.0,1)" font-size="12.6">10</text>
<text transform="translate(18.20,128.10) scale(1.0,1)" font-size="12">−4</text>
<text transform="translate(5.50,209.70) scale(1.0,1)" font-size="12.6">10</text>
<text transform="translate(18.20,205.20) scale(1.0,1)" font-size="12">−7</text>
<text transform="translate(0.60,286.60) scale(1.0,1)" font-size="12.6">10</text>
<text transform="translate(13.50,282.10) scale(1.0,1)" font-size="12">−10</text>
<text transform="translate(41.77,12.70) scale(1.045,1)" font-size="16">2</text>
<text transform="translate(51.05,12.70) scale(1.045,1)" font-size="16" font-style="italic">W</text>
<text transform="translate(65.80,15.50) scale(1.045,1)" font-size="11.4" font-style="italic">L</text>
<text transform="translate(71.65,12.70) scale(1.045,1)" font-size="16" font-style="italic">W</text>
<text transform="translate(86.50,15.50) scale(1.045,1)" font-size="11.4" font-style="italic">L</text>
<text transform="translate(94.16,14.00) scale(1.045,1)" font-size="16">+</text>
<text transform="translate(102.96,12.70) scale(1.045,1)" font-size="16">Z</text>
<text transform="translate(113.20,15.50) scale(1.045,1)" font-size="11.4" font-style="italic">L</text>
<text transform="translate(120.06,12.70) scale(1.045,1)" font-size="16">Z</text>
<text transform="translate(130.50,15.50) scale(1.045,1)" font-size="11.4" font-style="italic">L</text>
<text transform="translate(151.27,12.70) scale(1.045,1)" font-size="16">2</text>
<text transform="translate(160.55,12.70) scale(1.045,1)" font-size="16" font-style="italic">W</text>
<text transform="translate(175.30,15.50) scale(1.045,1)" font-size="11.4" font-style="italic">L</text>
<text transform="translate(181.15,12.70) scale(1.045,1)" font-size="16" font-style="italic">W</text>
<text transform="translate(196.00,15.50) scale(1.045,1)" font-size="11.4" font-style="italic">L</text>
<text transform="translate(203.66,14.00) scale(1.045,1)" font-size="16">+</text>
<text transform="translate(212.46,12.70) scale(1.045,1)" font-size="16">Z</text>
<text transform="translate(222.70,15.50) scale(1.045,1)" font-size="11.4" font-style="italic">L</text>
<text transform="translate(229.56,12.70) scale(1.045,1)" font-size="16">Z</text>
<text transform="translate(240.00,15.50) scale(1.045,1)" font-size="11.4" font-style="italic">L</text>
<text transform="translate(251.39,12.70) scale(1.045,1)" font-size="16">partial</text>
<text transform="translate(296.67,12.70) scale(1.045,1)" font-size="16">amplitudes</text>
<text transform="translate(118.86,247.30) scale(1.045,1)" font-size="13">|</text>
<text transform="translate(121.88,247.30) scale(1.045,1)" font-size="13">Re</text>
<text transform="translate(137.27,247.30) scale(1.045,1)" font-size="13">(</text>
<text transform="translate(142.18,247.30) scale(1.045,1)" font-size="13" font-style="italic">a</text>
<text transform="translate(149.98,250.60) scale(1.045,1)" font-size="12.6">0</text>
<text transform="translate(157.88,247.30) scale(1.045,1)" font-size="13">)</text>
<text transform="translate(163.26,247.30) scale(1.045,1)" font-size="13">|</text>
<text transform="translate(118.86,263.70) scale(1.045,1)" font-size="13">|</text>
<text transform="translate(121.78,263.70) scale(1.045,1)" font-size="13">Im</text>
<text transform="translate(137.27,263.70) scale(1.045,1)" font-size="13">(</text>
<text transform="translate(142.18,263.70) scale(1.045,1)" font-size="13" font-style="italic">a</text>
<text transform="translate(149.98,267.00) scale(1.045,1)" font-size="12.6">0</text>
<text transform="translate(157.88,263.70) scale(1.045,1)" font-size="13">)</text>
<text transform="translate(163.26,263.70) scale(1.045,1)" font-size="13">|</text>
<text transform="translate(118.86,280.50) scale(1.045,1)" font-size="13">|</text>
<text transform="translate(121.88,280.50) scale(1.045,1)" font-size="13">Re</text>
<text transform="translate(137.27,280.50) scale(1.045,1)" font-size="13">(</text>
<text transform="translate(142.18,280.50) scale(1.045,1)" font-size="13" font-style="italic">a</text>
<text transform="translate(150.25,283.80) scale(1.045,1)" font-size="12.6">1</text>
<text transform="translate(157.88,280.50) scale(1.045,1)" font-size="13">)</text>
<text transform="translate(163.26,280.50) scale(1.045,1)" font-size="13">|</text>
<text transform="translate(118.86,297.00) scale(1.045,1)" font-size="13">|</text>
<text transform="translate(121.78,297.00) scale(1.045,1)" font-size="13">Im</text>
<text transform="translate(137.27,297.00) scale(1.045,1)" font-size="13">(</text>
<text transform="translate(142.18,297.00) scale(1.045,1)" font-size="13" font-style="italic">a</text>
<text transform="translate(150.25,300.30) scale(1.045,1)" font-size="12.6">1</text>
<text transform="translate(157.88,297.00) scale(1.045,1)" font-size="13">)</text>
<text transform="translate(163.26,297.00) scale(1.045,1)" font-size="13">|</text>
<text transform="translate(118.86,313.60) scale(1.045,1)" font-size="13">|</text>
<text transform="translate(121.88,313.60) scale(1.045,1)" font-size="13">Re</text>
<text transform="translate(137.27,313.60) scale(1.045,1)" font-size="13">(</text>
<text transform="translate(142.18,313.60) scale(1.045,1)" font-size="13" font-style="italic">a</text>
<text transform="translate(149.87,316.90) scale(1.045,1)" font-size="12.6">2</text>
<text transform="translate(157.88,313.60) scale(1.045,1)" font-size="13">)</text>
<text transform="translate(163.26,313.60) scale(1.045,1)" font-size="13">|</text>
<text transform="translate(118.86,330.40) scale(1.045,1)" font-size="13">|</text>
<text transform="translate(121.78,330.40) scale(1.045,1)" font-size="13">Im</text>
<text transform="translate(137.27,330.40) scale(1.045,1)" font-size="13">(</text>
<text transform="translate(142.18,330.40) scale(1.045,1)" font-size="13" font-style="italic">a</text>
<text transform="translate(149.87,333.70) scale(1.045,1)" font-size="12.6">2</text>
<text transform="translate(157.88,330.40) scale(1.045,1)" font-size="13">)</text>
<text transform="translate(163.26,330.40) scale(1.045,1)" font-size="13">|</text>
<text transform="translate(212.28,339.80) scale(1.06,1.08)" font-size="20" stroke="none">log</text>
<text transform="translate(239.53,344.30) scale(1.05,1.0)" font-size="14.8" stroke="none">10</text>
<text transform="translate(278.69,339.60) scale(1.02,1.08)" font-size="20" font-style="italic" stroke="none">s</text>
<text transform="translate(288.14,339.80) scale(1.04,1.08)" font-size="19.5" stroke="none">[GeV]</text>
<path d="M262.5,334.3 L264.3,333.0" fill="none" stroke="#000" stroke-width="0.7"/>
<path d="M264.1,332.9 L269.5,343.2" fill="none" stroke="#000" stroke-width="1.4"/>
<path d="M269.4,343.6 L277.7,322.6 L287.8,322.6" fill="none" stroke="#000" stroke-width="0.8" stroke-linejoin="miter"/>
</svg>
</body></html>
